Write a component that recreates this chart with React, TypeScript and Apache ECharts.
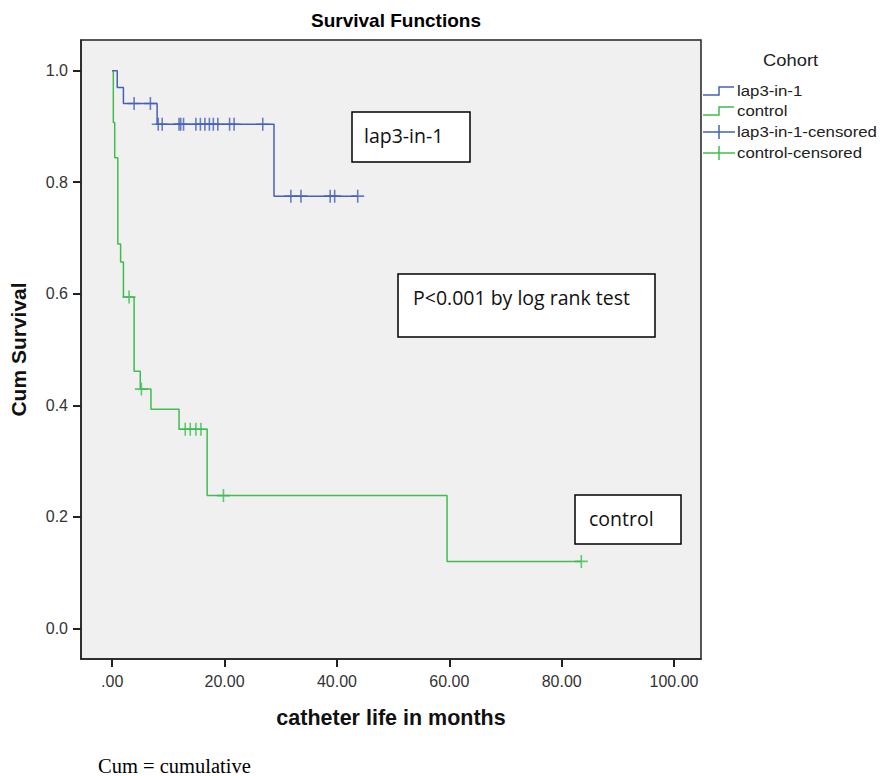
import React, { useEffect, useRef } from "react";
import * as echarts from "echarts";

// Kaplan-Meier step data (time in months, cumulative survival after event)
const lapEventTimes = [0.9, 2.0, 8.0, 28.8];
const lapEventSurv = [0.97, 0.941, 0.904, 0.775];
const lapCensorTimes = [3.9, 6.8, 8.2, 8.9, 11.9, 12.2, 12.7, 14.9, 15.7, 16.5, 17.3, 18.0, 18.8, 20.9, 21.7, 26.8, 31.8, 33.6, 38.8, 39.6, 43.7];

const ctrlEventTimes = [0.2, 0.45, 1.0, 1.5, 2.0, 3.9, 5.0, 6.9, 11.9, 16.9, 59.6];
const ctrlEventSurv = [0.907, 0.844, 0.689, 0.657, 0.594, 0.461, 0.429, 0.393, 0.357, 0.238, 0.12];
const ctrlCensorTimes = [3.0, 5.2, 13.0, 13.9, 14.9, 15.8, 19.8, 83.5];

const xTicks = [0, 20, 40, 60, 80, 100];
const yTicks = [0, 0.2, 0.4, 0.6, 0.8, 1.0];

const seriesNames = ["lap3-in-1", "control", "lap3-in-1-censored", "control-censored"];

const BLUE = "#4560b8";
const GREEN = "#3fbd50";
const FONT = "Liberation Sans";

function survAt(times: number[], surv: number[], t: number) {
  let s = 1;
  for (let i = 0; i < times.length; i++) if (times[i] <= t) s = surv[i];
  return s;
}

function stepData(times: number[], surv: number[], censors: number[]) {
  const pts: number[][] = [[0, 1]];
  times.forEach((t, i) => pts.push([t, surv[i]]));
  const lastT = Math.max(...censors, ...times);
  pts.push([lastT, survAt(times, surv, lastT)]);
  return pts;
}

const PLUS = "path://M5,0 L5,10 M0,5 L10,5";

export default function App() {
  const ref = useRef<HTMLDivElement>(null);
  useEffect(() => {
    if (!ref.current) return;
    const chart = echarts.init(ref.current, undefined, { renderer: "svg" });
    const gl = 81, gt = 40, gw = 620, gh = 619;
    const legendRows = [91, 111, 132, 153];
    const legendGraphics: any[] = [
      { type: "text", x: 763, y: 60, scaleX: 1.08, style: { text: "Cohort", fontSize: 17, fontFamily: FONT, fill: "#222", textVerticalAlign: "middle" } },
    ];
    seriesNames.forEach((name, i) => {
      const y = legendRows[i];
      const color = i % 2 === 0 ? BLUE : GREEN;
      if (i < 2) {
        legendGraphics.push({
          type: "polyline",
          shape: { points: [[703, y + 4], [719, y + 4], [719, y - 4], [734, y - 4]] },
          style: { stroke: color, lineWidth: 1.5, fill: null },
        });
      } else {
        legendGraphics.push({ type: "line", shape: { x1: 703, y1: y, x2: 735, y2: y }, style: { stroke: color, lineWidth: 1.5 } });
        legendGraphics.push({ type: "line", shape: { x1: 719, y1: y - 7, x2: 719, y2: y + 7 }, style: { stroke: color, lineWidth: 1.5 } });
      }
      legendGraphics.push({
        type: "text",
        x: 737,
        y: y,
        scaleX: 1.12,
        style: { text: name, fontSize: 15, fontFamily: FONT, fill: "#222", textVerticalAlign: "middle" },
      });
    });

    const box = (x: number, y: number, w: number, h: number, text: string, tx: number, ty: number) => [
      { type: "rect", shape: { x, y, width: w, height: h }, style: { fill: "#fff", stroke: "#000", lineWidth: 1.5 }, z: 10 },
      { type: "text", x: tx, y: ty, z: 11, style: { text, fontSize: 19.5, fontFamily: "Open Sans", fill: "#111", textVerticalAlign: "middle" } },
    ];

    chart.setOption({
      animation: false,
      backgroundColor: "#fff",
      title: {
        text: "Survival Functions",
        left: gl + gw / 2,
        top: 6,
        textAlign: "center",
        textStyle: { fontSize: 19, fontWeight: "bold", fontFamily: FONT, color: "#000" },
      },
      grid: {
        left: gl,
        top: gt,
        width: gw,
        height: gh,
        show: true,
        backgroundColor: "#f0f0f0",
        borderColor: "#222",
        borderWidth: 1.5,
      },
      xAxis: {
        type: "value",
        min: -5.55,
        max: 104.8,
        name: "catheter life in months",
        nameLocation: "middle",
        nameGap: 48,
        nameTextStyle: { fontSize: 21.5, fontWeight: "bold", fontFamily: FONT, color: "#111" },
        axisLine: { show: true, onZero: false, lineStyle: { color: "#222", width: 1.5 } },
        axisTick: { show: true, customValues: xTicks, length: 8, lineStyle: { color: "#222", width: 2 } },
        axisLabel: {
          customValues: xTicks,
          margin: 14,
          fontSize: 16,
          fontFamily: FONT,
          color: "#333",
          formatter: (v: number) => (v === 0 ? ".00" : v.toFixed(2)),
        },
        splitLine: { show: false },
      },
      yAxis: {
        type: "value",
        min: -0.055,
        max: 1.055,
        name: "Cum Survival",
        nameLocation: "middle",
        nameRotate: 90,
        nameGap: 52,
        nameTextStyle: { fontSize: 21, fontWeight: "bold", fontFamily: FONT, color: "#111" },
        axisLine: { show: true, onZero: false, lineStyle: { color: "#222", width: 1.5 } },
        axisTick: { show: true, customValues: yTicks, length: 8, lineStyle: { color: "#222", width: 2 } },
        axisLabel: {
          customValues: yTicks,
          margin: 13,
          fontSize: 16,
          fontFamily: FONT,
          color: "#333",
          formatter: (v: number) => v.toFixed(1),
        },
        splitLine: { show: false },
      },
      series: [
        {
          name: seriesNames[0],
          type: "line",
          step: "end",
          data: stepData(lapEventTimes, lapEventSurv, lapCensorTimes),
          showSymbol: false,
          lineStyle: { color: BLUE, width: 1.5 },
          itemStyle: { color: BLUE },
          emphasis: { disabled: true },
          z: 3,
        },
        {
          name: seriesNames[1],
          type: "line",
          step: "end",
          data: stepData(ctrlEventTimes, ctrlEventSurv, ctrlCensorTimes),
          showSymbol: false,
          lineStyle: { color: GREEN, width: 1.5 },
          itemStyle: { color: GREEN },
          emphasis: { disabled: true },
          z: 2,
        },
        {
          name: seriesNames[2],
          type: "scatter",
          symbol: PLUS,
          symbolSize: 13,
          data: lapCensorTimes.map((t) => [t, survAt(lapEventTimes, lapEventSurv, t)]),
          itemStyle: { color: BLUE, borderColor: BLUE, borderWidth: 1.6 },
          emphasis: { disabled: true },
          z: 4,
        },
        {
          name: seriesNames[3],
          type: "scatter",
          symbol: PLUS,
          symbolSize: 13,
          data: ctrlCensorTimes.map((t) => [t, survAt(ctrlEventTimes, ctrlEventSurv, t)]),
          itemStyle: { color: GREEN, borderColor: GREEN, borderWidth: 1.6 },
          emphasis: { disabled: true },
          z: 4,
        },
      ],
      graphic: [
        ...legendGraphics,
        ...box(352, 112, 118, 50, "lap3-in-1", 364, 135),
        ...box(398, 274, 257, 63, "P<0.001 by log rank test", 413, 297),
        ...box(575, 495, 106, 49, "control", 589, 518),
        {
          type: "text",
          x: 98,
          y: 766,
          style: { text: "Cum = cumulative", fontSize: 20.5, fontFamily: "Liberation Serif", fill: "#000", textVerticalAlign: "middle" },
        },
      ],
    });
    return () => chart.dispose();
  }, []);
  return (
    <div
      ref={ref}
      style={{ position: "absolute", left: 0, top: 0, width: 880, height: 776, background: "#fff" }}
    />
  );
}
